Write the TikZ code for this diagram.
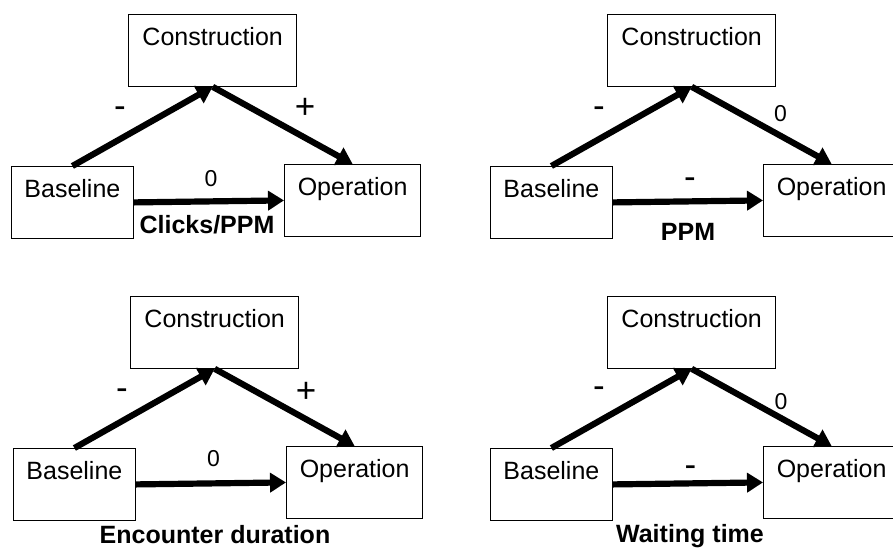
\documentclass[tikz,border=0pt]{standalone}
\usepackage{fontspec}
\setmainfont{Liberation Sans}
\usetikzlibrary{arrows.meta}

\tikzset{
  x=1pt, y=-1pt,
  box/.style={draw, line width=1.3pt, anchor=north west, inner xsep=0pt,
    inner ysep=13pt, text height=18pt, text depth=27.5pt,
    minimum height=71.5pt, font=\fontsize{25pt}{30pt}\selectfont},
  conbox/.style={box, minimum width=168pt},
  basebox/.style={box, minimum width=121.5pt},
  opbox/.style={box, minimum width=136pt},
  link/.style={line width=6.2pt, -{Triangle[length=16pt,width=19pt]}},
  sign/.style={anchor=base, inner sep=0pt, font=\fontsize{35pt}{40pt}\selectfont},
  zero/.style={anchor=base, inner sep=0pt, font=\fontsize{23pt}{28pt}\selectfont},
  caption/.style={anchor=base, inner sep=0pt, font=\fontsize{25pt}{30pt}\selectfont\bfseries},
}

\begin{document}
\begin{tikzpicture}
\useasboundingbox (0,0) rectangle (893,547);
\clip (0,0) rectangle (893,547);

% Clicks/PPM
\node[conbox]  (c1) at (128,14)  {Construction};
\node[basebox] (b1) at (11,166)  {Baseline};
\node[opbox]   (o1) at (284,164) {Operation};
\draw[link] (b1.north) -- (c1.south);
\draw[link] (c1.south) -- (o1.north);
\draw[link] (b1.east) -- (o1.west);
\node[sign] (s1a) at (120,117.6) {-};
\node[sign] (s1b) at (305,118.6) {+};
\node[zero] (s1c) at (211,186) {0};
\node[caption] (t1) at (207,233) {Clicks/PPM};

% PPM
\node[conbox]  (c2) at (607,14)  {Construction};
\node[basebox] (b2) at (490,166) {Baseline};
\node[opbox]   (o2) at (763,164) {Operation};
\draw[link] (b2.north) -- (c2.south);
\draw[link] (c2.south) -- (o2.north);
\draw[link] (b2.east) -- (o2.west);
\node[sign] (s2a) at (599,117.6) {-};
\node[zero] (s2b) at (780.5,121.5) {0};
\node[sign] (s2c) at (690,188) {-};
\node[caption] (t2) at (688,240) {PPM};

% Encounter duration
\node[conbox]  (c3) at (130,296) {Construction};
\node[basebox] (b3) at (13,448)  {Baseline};
\node[opbox]   (o3) at (286,446) {Operation};
\draw[link] (b3.north) -- (c3.south);
\draw[link] (c3.south) -- (o3.north);
\draw[link] (b3.east) -- (o3.west);
\node[sign] (s3a) at (122,399.6) {-};
\node[sign] (s3b) at (306,402) {+};
\node[zero] (s3c) at (213.5,466) {0};
\node[caption] (t3) at (215,543) {Encounter duration};

% Waiting time
\node[conbox]  (c4) at (607,296) {Construction};
\node[basebox] (b4) at (490,448) {Baseline};
\node[opbox]   (o4) at (763,446) {Operation};
\draw[link] (b4.north) -- (c4.south);
\draw[link] (c4.south) -- (o4.north);
\draw[link] (b4.east) -- (o4.west);
\node[sign] (s4a) at (599,397.6) {-};
\node[zero] (s4b) at (781,409) {0};
\node[sign] (s4c) at (690.5,476.6) {-};
\node[caption] (t4) at (690,542) {Waiting time};
\end{tikzpicture}
\end{document}
